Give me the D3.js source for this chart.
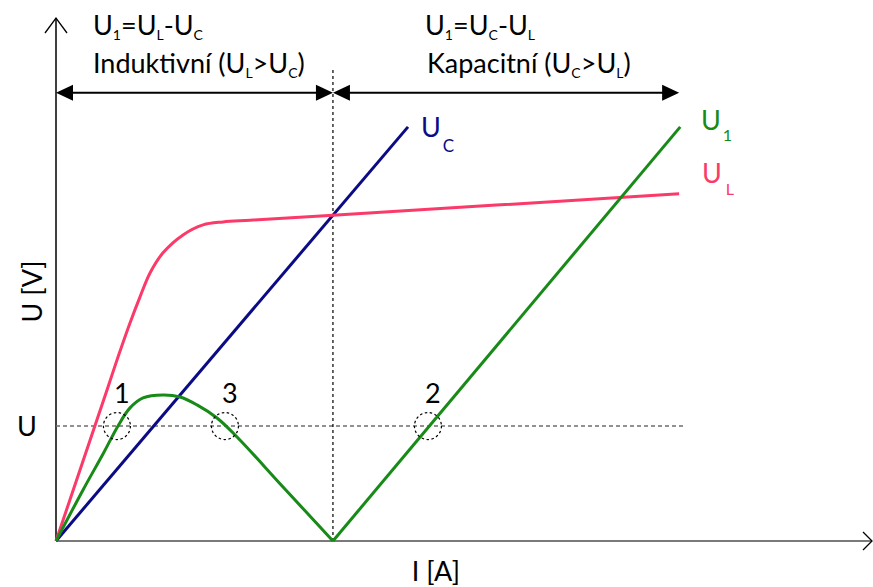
<!DOCTYPE html>
<html>
<head>
<meta charset="utf-8">
<script src="https://cdn.jsdelivr.net/npm/d3@7"></script>
<style>
  html, body { margin: 0; padding: 0; background: #fff; }
  svg { display: block; }
  text { font-family: Lato, "Open Sans", sans-serif; }
</style>
</head>
<body>
<svg id="chart" width="873" height="587"></svg>
<script>
// Current I [A] and voltage U [V] in relative units (resonance at I = 10, working voltage U = 10)
const iMax = 29.5;          // end of the current axis
const uMax = 45.5;          // end of the voltage axis
const iRes = 10;            // resonant current
const uLevel = 10;          // working voltage U
const uLevelEnd = 22.7;     // extent of the dashed U level line
const resLineTop = 41.2;    // top of the dotted resonance line
const spanLevel = 39;       // height of the double arrows

// U_C : straight line through the origin
const ucI = [0, 12.71];
const ucU = [0, 36.03];

// U_L : saturating characteristic
const ulI = [0, 1.842, 2.239, 2.672, 3.034, 3.395, 3.864, 4.587, 5.309, 6.031, 7.006, 10.0, 22.50];
const ulU = [0, 13.14, 16.01, 18.97, 21.24, 23.32, 25.07, 26.63, 27.50, 27.76, 27.91, 28.35, 30.20];

// U_1 : inductive branch (below resonance)
const u1aI = [0, 0.975, 1.697, 2.239, 2.672, 3.142, 3.864, 4.478, 5.092, 5.814, 6.537, 8.198, 10.0];
const u1aU = [0, 4.44, 7.57, 10.01, 11.58, 12.45, 12.71, 12.53, 11.84, 10.70, 9.05, 4.70, 0];
// U_1 : capacitive branch (above resonance)
const u1bI = [10.0, 22.54];
const u1bU = [0, 36.03];

// Operating points where U_1 = U
const pointLabels = ["1", "3", "2"];
const pointI = [2.20, 6.10, 13.43];

const colors = { uc: "#0b0b85", ul: "#fb3a6a", u1: "#178a17" };

const svg = d3.select("#chart");
const x = d3.scaleLinear().domain([0, iMax]).range([56, 873]);
const y = d3.scaleLinear().domain([0, uMax]).range([541, 18]);

const FS = 27;      // main font size
const SUB = 15;     // subscript font size

// text with subscripts: parts = [[text, isSub], ...]
function richText(g, px, py, parts, opts = {}) {
  const t = g.append("text")
    .attr("x", px).attr("y", py)
    .attr("font-size", FS)
    .attr("fill", opts.fill || "#000")
    .attr("text-anchor", opts.anchor || "start");
  const drop = opts.drop || 4;
  let lowered = false;
  parts.forEach(([s, sub]) => {
    const ts = t.append("tspan").text(s);
    if (sub) {
      ts.attr("font-size", opts.sub || SUB).attr("dy", lowered ? 0 : drop);
      if (opts.gap) ts.attr("dx", opts.gap);
      lowered = true;
    } else {
      ts.attr("dy", lowered ? -drop : 0);
      lowered = false;
    }
  });
  return t;
}

// ---- axes ----
const axes = svg.append("g");
axes.append("line")
  .attr("x1", x(0)).attr("y1", y(0)).attr("x2", x(iMax) - 1).attr("y2", y(0))
  .attr("stroke", "#7a7a7a").attr("stroke-width", 2);
axes.append("path")
  .attr("d", `M${x(iMax) - 10},${y(0) - 9} L${x(iMax) - 1},${y(0)} L${x(iMax) - 10},${y(0) + 9}`)
  .attr("fill", "none").attr("stroke", "#000").attr("stroke-width", 1.3);
axes.append("line")
  .attr("x1", x(0)).attr("y1", y(0)).attr("x2", x(0)).attr("y2", y(uMax))
  .attr("stroke", "#000").attr("stroke-width", 1.5);
axes.append("path")
  .attr("d", `M${x(0) - 11},${y(uMax) + 15} L${x(0)},${y(uMax)} L${x(0) + 11},${y(uMax) + 15}`)
  .attr("fill", "none").attr("stroke", "#000").attr("stroke-width", 1.3);

// axis titles
svg.append("text")
  .attr("transform", `translate(42,${(y(0) + y(uMax)) / 2 + 12}) rotate(-90)`)
  .attr("text-anchor", "middle").attr("font-size", FS).text("U [V]");
svg.append("text")
  .attr("x", 436).attr("y", 581)
  .attr("text-anchor", "middle").attr("font-size", FS).text("I [A]");
svg.append("text")
  .attr("x", 27).attr("y", y(uLevel) + 10)
  .attr("text-anchor", "middle").attr("font-size", FS).text("U");

// ---- reference lines ----
svg.append("line")
  .attr("x1", x(0)).attr("x2", x(uLevelEnd))
  .attr("y1", y(uLevel)).attr("y2", y(uLevel))
  .attr("stroke", "#6e6e6e").attr("stroke-width", 1.5)
  .attr("stroke-dasharray", "4,3");
svg.append("line")
  .attr("x1", x(iRes)).attr("x2", x(iRes))
  .attr("y1", y(0)).attr("y2", y(resLineTop))
  .attr("stroke", "#000").attr("stroke-width", 1.2)
  .attr("stroke-dasharray", "3,3");

// ---- double arrows marking the two regions ----
function doubleArrow(i0, i1) {
  const ay = y(spanLevel);
  const a = x(i0), b = x(i1);
  const L = 17, H = 8;
  svg.append("line")
    .attr("x1", a + L - 2).attr("x2", b - L + 2)
    .attr("y1", ay).attr("y2", ay)
    .attr("stroke", "#000").attr("stroke-width", 2);
  svg.append("path").attr("d", `M${a},${ay} L${a + L},${ay - H} L${a + L},${ay + H} Z`).attr("fill", "#000");
  svg.append("path").attr("d", `M${b},${ay} L${b - L},${ay - H} L${b - L},${ay + H} Z`).attr("fill", "#000");
}
doubleArrow(0, iRes);
doubleArrow(iRes, 22.5);

// ---- region captions ----
richText(svg, 93, 35, [["U"], ["1", true], ["=U"], ["L", true], ["-U"], ["C", true]], { drop: 5, sub: 14 });
richText(svg, 93, 73, [["Induktivní (U"], ["L", true], [">U"], ["C", true], [")"]], { drop: 5, sub: 14 });
richText(svg, 425, 35, [["U"], ["1", true], ["=U"], ["C", true], ["-U"], ["L", true]], { drop: 5, sub: 14 });
richText(svg, 427, 73, [["Kapacitní (U"], ["C", true], [">U"], ["L", true], [")"]], { drop: 5, sub: 14 });

// ---- curves ----
const pts = (I, U) => I.map((v, k) => [v, U[k]]);
const smooth = d3.line().x(d => x(d[0])).y(d => y(d[1])).curve(d3.curveCatmullRom.alpha(0.5));
const straight = d3.line().x(d => x(d[0])).y(d => y(d[1]));

svg.append("path").attr("d", straight(pts(ucI, ucU)))
  .attr("fill", "none").attr("stroke", colors.uc).attr("stroke-width", 3);
svg.append("path").attr("d", smooth(pts(ulI, ulU)))
  .attr("fill", "none").attr("stroke", colors.ul).attr("stroke-width", 3);
svg.append("path").attr("d", smooth(pts(u1aI, u1aU)))
  .attr("fill", "none").attr("stroke", colors.u1).attr("stroke-width", 3);
svg.append("path").attr("d", straight(pts(u1bI, u1bU)))
  .attr("fill", "none").attr("stroke", colors.u1).attr("stroke-width", 3);

// ---- curve labels ----
richText(svg, x(ucI[1]) + 13, 137, [["U"], ["C", true]], { fill: colors.uc, drop: 15, gap: 2, sub: 17 });
richText(svg, 701, 130, [["U"], ["1", true]], { fill: colors.u1, drop: 11, gap: 2, sub: 16 });
richText(svg, 702, 183, [["U"], ["L", true]], { fill: colors.ul, drop: 12, gap: 4, sub: 16 });

// ---- operating points ----
pointI.forEach((pi, k) => {
  svg.append("circle")
    .attr("cx", x(pi)).attr("cy", y(uLevel)).attr("r", 13.5)
    .attr("fill", "none").attr("stroke", "#000").attr("stroke-width", 1.2)
    .attr("stroke-dasharray", "2.5,2.5");
  svg.append("text")
    .attr("x", x(pi) + 5).attr("y", y(uLevel) - 23)
    .attr("text-anchor", "middle").attr("font-size", FS)
    .text(pointLabels[k]);
});
</script>
</body>
</html>
